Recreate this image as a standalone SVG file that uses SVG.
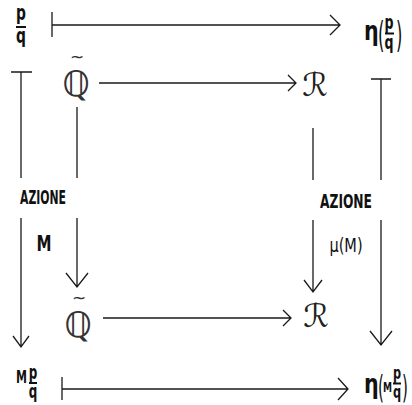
<svg xmlns="http://www.w3.org/2000/svg" width="412" height="405" viewBox="0 0 412 405">
<style>
.ln{stroke:#1a1a1a;stroke-width:1.3;fill:none}
.b{font-family:"DejaVu Sans Condensed","DejaVu Sans",sans-serif;font-stretch:condensed;font-weight:bold;fill:#111}
.n{font-family:"DejaVu Sans Condensed","DejaVu Sans",sans-serif;font-stretch:condensed;fill:#111}
.m{font-family:"DejaVu Serif","DejaVu Sans",serif;fill:#222}
.t{font-family:"DejaVu Sans",sans-serif;fill:#333}
.fb{stroke:#111;stroke-width:2}
</style>
<rect width="412" height="405" fill="#fff"/>
<g id="connectors">
  <path class="ln" d="M52,12V37M52,25H340M330,15L340,25L330,35"/>
  <path class="ln" d="M99,83H296M288,75L296,83L288,91"/>
  <path class="ln" d="M103,318H291M283,310L291,318L283,326"/>
  <path class="ln" d="M62,377V400M62,389H348M338,378L348,389L338,400"/>
  <path class="ln" d="M11,72H32M21,72V178M21,218V347M13,336L21,347L29,336"/>
  <path class="ln" d="M77,107V178M77,218V287M66,273L77,287L88,273"/>
  <path class="ln" d="M371,79H391M381,79V180M381,220V345M370,331L381,345L392,331"/>
  <path class="ln" d="M313,128V180M313,220V292M304,280L313,292L322,280"/>
</g>
<g id="n-pq">
  <text class="b" transform="translate(21,20) scale(0.7,1)" font-size="22" text-anchor="middle">p</text>
  <line class="fb" x1="16" y1="27" x2="26" y2="27"/>
  <text class="b" transform="translate(21,43) scale(0.7,1)" font-size="22" text-anchor="middle">q</text>
</g>
<g id="n-eta-pq">
  <text class="b" transform="translate(364,40) scale(0.85,1)" font-size="27">η</text>
  <text class="n" transform="translate(378,47) scale(0.7,1.35)" font-size="26">(</text>
  <text class="b" transform="translate(389,29) scale(0.7,1)" font-size="20" text-anchor="middle">p</text>
  <line class="fb" x1="385" y1="33.5" x2="394" y2="33.5"/>
  <text class="b" transform="translate(389,49) scale(0.7,1)" font-size="20" text-anchor="middle">q</text>
  <text class="n" transform="translate(396,47) scale(0.7,1.35)" font-size="26">)</text>
</g>
<g id="n-Q-top">
  <text class="t" x="77" y="63" font-size="17" text-anchor="middle">~</text>
  <text class="t" x="76" y="96" font-size="35" text-anchor="middle">ℚ</text>
</g>
<g id="n-R-top">
  <text class="m" x="315" y="96" font-size="32" text-anchor="middle">ℛ</text>
</g>
<g id="n-Q-bot">
  <text class="t" x="79" y="304" font-size="17" text-anchor="middle">~</text>
  <text class="t" x="78" y="337" font-size="35" text-anchor="middle">ℚ</text>
</g>
<g id="n-R-bot">
  <text class="m" x="316" y="327" font-size="32" text-anchor="middle">ℛ</text>
</g>
<g id="n-Mpq">
  <text class="b" x="16" y="383" font-size="17" textLength="11" lengthAdjust="spacingAndGlyphs">M</text>
  <text class="b" transform="translate(33,379) scale(0.7,1)" font-size="19" text-anchor="middle">p</text>
  <line class="fb" x1="29" y1="383" x2="37" y2="383"/>
  <text class="b" transform="translate(33,398) scale(0.7,1)" font-size="19" text-anchor="middle">q</text>
</g>
<g id="n-eta-Mpq">
  <text class="b" transform="translate(364,393) scale(0.85,1)" font-size="27">η</text>
  <text class="n" transform="translate(378,398) scale(0.7,1.3)" font-size="24">(</text>
  <text class="b" x="383" y="392" font-size="14" textLength="9" lengthAdjust="spacingAndGlyphs">M</text>
  <text class="b" transform="translate(397,379) scale(0.7,1)" font-size="18" text-anchor="middle">p</text>
  <line class="fb" x1="393" y1="383.5" x2="401" y2="383.5"/>
  <text class="b" transform="translate(397,398) scale(0.7,1)" font-size="18" text-anchor="middle">q</text>
  <text class="n" transform="translate(402,398) scale(0.7,1.3)" font-size="24">)</text>
</g>
<g id="labels">
  <text class="b" x="20" y="204" font-size="20" textLength="46" lengthAdjust="spacingAndGlyphs">AZIONE</text>
  <text class="b" transform="translate(44,251) scale(0.8,1)" font-size="21" text-anchor="middle">M</text>
  <text class="b" x="320" y="208" font-size="20" textLength="52" lengthAdjust="spacingAndGlyphs">AZIONE</text>
  <text class="n" transform="translate(346,252) scale(0.85,1)" font-size="19" text-anchor="middle">μ(M)</text>
</g>
</svg>
